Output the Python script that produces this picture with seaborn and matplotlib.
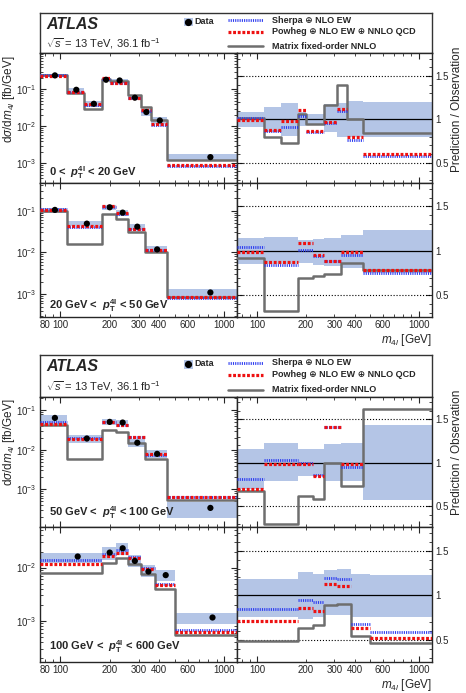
import numpy as np
import pandas as pd
import matplotlib
matplotlib.use("Agg")
import matplotlib.pyplot as plt
import matplotlib.ticker as mticker
from matplotlib.patches import Rectangle
import seaborn as sns

# m4l bin edges [GeV], one set per pT4l slice
edges_a = [75, 110, 140, 180, 200, 260, 310, 360, 450, 1200]   # 0 < pT < 20
edges_b = [75, 110, 180, 220, 260, 330, 450, 1200]             # 20 < pT < 50
edges_c = [75, 110, 180, 220, 260, 330, 450, 1200]             # 50 < pT < 100
edges_d = [75, 180, 220, 260, 310, 380, 500, 1200]             # 100 < pT < 600

# measured dsigma/dm4l [fb/GeV]
data_a = [0.24, 0.098, 0.041, 0.183, 0.175, 0.060, 0.0245, 0.0145, 0.00148]
data_b = [0.104, 0.0488, 0.12, 0.0895, 0.0413, 0.0118, 0.0011]
data_c = [0.064, 0.0193, 0.0508, 0.0489, 0.0151, 0.0079, 0.00034]
data_d = [0.0161, 0.0191, 0.023, 0.0133, 0.0084, 0.0072, 0.00115]

# data uncertainty band, relative to the measurement
band_hi_a = [1.08, 1.14, 1.19, 1.08, 1.065, 1.17, 1.19, 1.21, 1.20]
band_lo_a = [0.91, 0.85, 0.81, 0.92, 0.935, 0.85, 0.80, 0.79, 0.80]
band_hi_b = [1.14, 1.16, 1.12, 1.13, 1.14, 1.18, 1.23]
band_lo_b = [0.855, 0.855, 0.86, 0.845, 0.83, 0.81, 0.75]
band_hi_c = [1.16, 1.23, 1.16, 1.16, 1.22, 1.23, 1.44]
band_lo_c = [0.70, 0.79, 0.85, 0.85, 0.79, 0.79, 0.57]
band_hi_d = [1.185, 1.26, 1.24, 1.28, 1.30, 1.24, 1.23]
band_lo_d = [0.76, 0.74, 0.76, 0.78, 0.78, 0.76, 0.76]

# prediction / observation
sherpa_a = [1.01, 0.865, 0.91, 1.04, 0.85, 0.96, 1.10, 0.76, 0.58]
powheg_a = [0.99, 0.87, 0.98, 1.11, 0.865, 0.97, 1.115, 0.79, 0.60]
matrix_a = [1.01, 0.80, 0.73, 1.065, 0.94, 1.165, 1.40, 1.0, 0.835]
sherpa_b = [1.04, 0.845, 1.01, 0.945, 0.89, 0.955, 0.75]
powheg_b = [0.985, 0.875, 1.085, 0.955, 0.89, 0.985, 0.78]
matrix_b = [0.92, 0.32, 0.70, 0.715, 0.735, 0.865, 0.78]
sherpa_c = [0.81, 1.03, 1.0, 0.855, 1.41, 0.95, 1.88]
powheg_c = [0.695, 0.99, 0.99, 0.85, 1.41, 0.99, 1.90]
matrix_c = [0.675, 0.30, 0.62, 0.58, 1.0, 0.73, 1.62]
sherpa_d = [0.845, 0.945, 0.925, 1.19, 1.185, 0.685, 0.59]
powheg_d = [0.71, 0.86, 0.83, 1.13, 1.10, 0.64, 0.53]
matrix_d = [0.49, 0.64, 0.667, 0.89, 0.907, 0.545, 0.47]

slice_labels = [
    r"0 <  $\mathbfit{p}_{\mathbf{T}}^{\mathbf{4l}}$ < 20 GeV",
    r"20 GeV <  $\mathbfit{p}_{\mathbf{T}}^{\mathbf{4l}}$ < 50 GeV",
    r"50 GeV <  $\mathbfit{p}_{\mathbf{T}}^{\mathbf{4l}}$ < 100 GeV",
    r"100 GeV <  $\mathbfit{p}_{\mathbf{T}}^{\mathbf{4l}}$ < 600 GeV",
]
main_ylims = [(2.9e-4, 0.95), (2.9e-4, 0.45), (1.1e-4, 0.22), (1.7e-4, 0.057)]

slices = [
    dict(edges=edges_a, data=data_a, hi=band_hi_a, lo=band_lo_a, sh=sherpa_a, pw=powheg_a, mx=matrix_a),
    dict(edges=edges_b, data=data_b, hi=band_hi_b, lo=band_lo_b, sh=sherpa_b, pw=powheg_b, mx=matrix_b),
    dict(edges=edges_c, data=data_c, hi=band_hi_c, lo=band_lo_c, sh=sherpa_c, pw=powheg_c, mx=matrix_c),
    dict(edges=edges_d, data=data_d, hi=band_hi_d, lo=band_lo_d, sh=sherpa_d, pw=powheg_d, mx=matrix_d),
]

sns.set_style("ticks")
plt.rcParams["font.family"] = ["Liberation Sans", "DejaVu Sans"]
plt.rcParams["mathtext.fontset"] = "custom"
plt.rcParams["mathtext.rm"] = "Liberation Sans"
plt.rcParams["mathtext.it"] = "Liberation Sans:italic"
plt.rcParams["mathtext.bf"] = "Liberation Sans:bold"
plt.rcParams["mathtext.bfit"] = "Liberation Sans:bold:italic"
plt.rcParams["axes.linewidth"] = 1.0

BAND = "#b4c5e6"
RED = "#ee1111"
BLUE = "#2a3af0"
GREY = "#6e6e6e"
SHERPA_LS = (0, (0.4, 0.4))
POWHEG_LS = (0, (0.9, 0.55))


def seg_frame(edges, vals):
    x, y, b = [], [], []
    for i, v in enumerate(vals):
        x += [edges[i], edges[i + 1]]
        y += [v, v]
        b += [i, i]
    return pd.DataFrame({"x": x, "y": y, "bin": b})


def draw_segments(ax, edges, vals, color, ls, lw, z):
    sns.lineplot(data=seg_frame(edges, vals), x="x", y="y", units="bin", estimator=None,
                 color=color, lw=lw, linestyle=ls, ax=ax, zorder=z, legend=False)


def draw_step(ax, edges, vals):
    df = pd.DataFrame({"x": edges, "y": list(vals) + [vals[-1]]})
    sns.lineplot(data=df, x="x", y="y", estimator=None, color=GREY, lw=1.8,
                 drawstyle="steps-post", ax=ax, zorder=3, legend=False)


def style_x(ax, bottom, minor_labels):
    ax.set_xscale("log")
    ax.set_xlim(75, 1200)
    ax.xaxis.set_major_locator(mticker.FixedLocator([100, 1000]))
    ax.xaxis.set_minor_locator(mticker.FixedLocator([80, 90, 200, 300, 400, 500, 600, 700, 800, 900]))
    if bottom:
        ax.xaxis.set_major_formatter(mticker.FuncFormatter(lambda v, p: f"{v:g}"))
        ax.xaxis.set_minor_formatter(mticker.FuncFormatter(
            lambda v, p: f"{v:g}" if round(v) in minor_labels else ""))
    else:
        ax.xaxis.set_major_formatter(mticker.NullFormatter())
        ax.xaxis.set_minor_formatter(mticker.NullFormatter())
    ax.tick_params(which="both", direction="in", top=True, right=True, labelsize=7, pad=2.5)
    ax.tick_params(which="major", length=4, width=0.8)
    ax.tick_params(which="minor", length=2, width=0.6)
    ax.set_xlabel("")
    ax.set_ylabel("")


def draw_main(ax, s, ylim, label, label_y, bottom):
    ax.set_xscale("log")
    ax.set_yscale("log")
    e = np.array(s["edges"], float)
    d = np.array(s["data"])
    up = d * np.array(s["hi"])
    dn = d * np.array(s["lo"])
    ax.fill_between(e, np.append(dn, dn[-1]), np.append(up, up[-1]), step="post",
                    color=BAND, lw=0, zorder=1)
    draw_step(ax, s["edges"], d * np.array(s["mx"]))
    draw_segments(ax, s["edges"], d * np.array(s["sh"]), BLUE, SHERPA_LS, 2.0, 4)
    draw_segments(ax, s["edges"], d * np.array(s["pw"]), RED, POWHEG_LS, 2.3, 5)
    centers = (e[:-1] + e[1:]) / 2
    sns.scatterplot(x=centers, y=d, color="black", s=20, edgecolor="none", ax=ax,
                    zorder=6, legend=False)
    style_x(ax, bottom, (80, 200, 300, 400, 600))
    ax.set_ylim(*ylim)
    ax.yaxis.set_major_locator(mticker.LogLocator(base=10))
    ax.yaxis.set_minor_locator(mticker.LogLocator(base=10, subs=np.arange(2, 10)))
    ax.yaxis.set_minor_formatter(mticker.NullFormatter())
    ax.text(0.045, label_y, label, transform=ax.transAxes, fontsize=8, fontweight="bold",
            va="baseline", ha="left")


def draw_ratio(ax, s, bottom):
    ax.set_xscale("log")
    e = np.array(s["edges"], float)
    hi = np.array(s["hi"])
    lo = np.array(s["lo"])
    ax.fill_between(e, np.append(lo, lo[-1]), np.append(hi, hi[-1]), step="post",
                    color=BAND, lw=0, zorder=1)
    ax.axhline(1.0, color="black", lw=0.9, zorder=2)
    ax.axhline(0.5, color="black", lw=0.8, ls=":", zorder=2)
    ax.axhline(1.5, color="black", lw=0.8, ls=":", zorder=2)
    draw_step(ax, s["edges"], s["mx"])
    draw_segments(ax, s["edges"], s["sh"], BLUE, SHERPA_LS, 2.0, 4)
    draw_segments(ax, s["edges"], s["pw"], RED, POWHEG_LS, 2.3, 5)
    style_x(ax, bottom, (200, 300, 400, 600))
    ax.set_ylim(0.26, 1.76)
    ax.yaxis.set_major_locator(mticker.MultipleLocator(0.5))
    ax.yaxis.set_minor_locator(mticker.MultipleLocator(0.1))
    ax.yaxis.set_major_formatter(mticker.FuncFormatter(lambda v, p: f"{v:g}"))
    ax.tick_params(axis="y", which="both", left=True, right=True, labelleft=False,
                   labelright=True)
    if bottom:
        ax.set_xlabel(r"$m_{4l}$ [GeV]", fontsize=8.5, ha="right", x=1.0, labelpad=1)


def draw_header(ax):
    ax.set_xticks([])
    ax.set_yticks([])
    ax.set_xlim(0, 1)
    ax.set_ylim(0, 1)
    for sp in ax.spines.values():
        sp.set_color("#333333")
        sp.set_linewidth(1.0)
    ax.text(0.017, 0.72, "ATLAS", fontsize=11.5, fontweight="bold", style="italic",
            va="center", ha="left")
    ax.text(0.015, 0.25, r"$\sqrt{s}$ = 13 TeV, 36.1 fb$^{-1}$", fontsize=8,
            va="center", ha="left")
    ax.add_patch(Rectangle((0.3676, 0.672), 0.023, 0.197, color=BAND, lw=0))
    ax.plot([0.3786], [0.775], "o", color="black", ms=4.2)
    ax.text(0.393, 0.79, "Data", fontsize=6.5, fontweight="bold", va="center", ha="left")
    ax.plot([0.48, 0.569], [0.82, 0.82], color=BLUE, lw=2.0, linestyle=SHERPA_LS)
    ax.plot([0.48, 0.569], [0.53, 0.53], color=RED, lw=2.3, linestyle=POWHEG_LS)
    ax.plot([0.48, 0.569], [0.17, 0.17], color=GREY, lw=1.8)
    ax.text(0.5915, 0.82, "Sherpa \u2295 NLO EW", fontsize=6.5, fontweight="bold",
            va="center", ha="left")
    ax.text(0.5915, 0.53, "Powheg \u2295 NLO EW \u2295 NNLO QCD", fontsize=6.5,
            fontweight="bold", va="center", ha="left")
    ax.text(0.5915, 0.17, "Matrix fixed-order NNLO", fontsize=6.5, fontweight="bold",
            va="center", ha="left")


W, H = 466, 693
fig = plt.figure(figsize=(W / 100, H / 100), dpi=100)


def fx(px):
    return px / W


def fy(py):
    return 1 - py / H


x_l, x_m, x_r = 40, 237, 431.7
blocks = [
    dict(top=12.7, hdr=53.3, mid=183.3, bot=316.7, rows=(0, 1), label_y=0.055),
    dict(top=355.0, hdr=396.7, mid=527.3, bot=661.7, rows=(2, 3), label_y=0.085),
]

for blk in blocks:
    hax = fig.add_axes([fx(x_l), fy(blk["hdr"]), fx(x_r) - fx(x_l), fy(blk["top"]) - fy(blk["hdr"])])
    draw_header(hax)
    row_bounds = [(blk["hdr"], blk["mid"]), (blk["mid"], blk["bot"])]
    for r, (t, b) in zip(blk["rows"], row_bounds):
        bottom = (r % 2 == 1)
        axm = fig.add_axes([fx(x_l), fy(b), fx(x_m) - fx(x_l), fy(t) - fy(b)])
        draw_main(axm, slices[r], main_ylims[r], slice_labels[r], blk["label_y"], bottom)
        axr = fig.add_axes([fx(x_m), fy(b), fx(x_r) - fx(x_m), fy(t) - fy(b)])
        draw_ratio(axr, slices[r], bottom)
    fig.text(fx(9), fy(blk["hdr"] + 46), r"d$\sigma$/d$m_{4l}$ [fb/GeV]", rotation=90,
             fontsize=8.5, ha="center", va="center")
    fig.text(fx(457), fy(blk["hdr"] + 56), "Prediction / Observation", rotation=90,
             fontsize=8.5, ha="center", va="center")

fig.savefig("out.png", dpi=100)
